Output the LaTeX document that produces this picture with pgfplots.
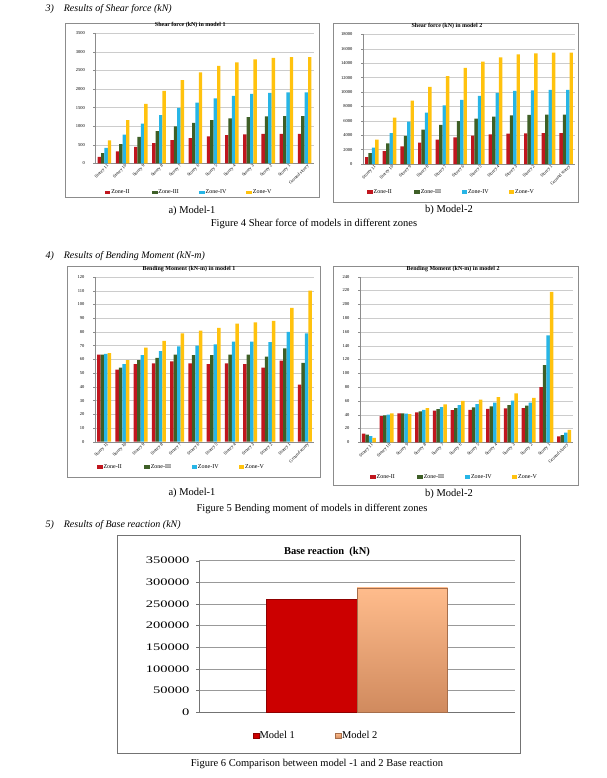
\documentclass[border=0pt]{standalone}
\usepackage{fontspec}
\setmainfont{Liberation Serif}
\newfontfamily\wideserif[FakeStretch=1.45]{Liberation Serif}
\usepackage{pgfplots}
\pgfplotsset{compat=1.18}

\definecolor{zII}{HTML}{C0161E}
\definecolor{zIII}{HTML}{3E5F27}
\definecolor{zIV}{HTML}{27B5E6}
\definecolor{zV}{HTML}{FFC20E}
\definecolor{mone}{HTML}{CC0000}
\definecolor{mtwotop}{HTML}{FFBC8C}
\definecolor{mtwobot}{HTML}{D08A5E}

\newcommand{\capfont}{\fontsize{10.5}{12}\selectfont}

\pgfplotsset{
  zonechart/.style={
    scale only axis,
    ybar=0pt, bar width=3.4pt,
    xmin=-0.5, xmax=11.5, ymin=0,
    xtick={0,...,11},
    xticklabels={Storey 11,Storey 10,Storey 9,Storey 8,Storey 7,Storey 6,Storey 5,Storey 4,Storey 3,Storey 2,Storey 1,Ground storey},
    xticklabel style={rotate=45, anchor=north east, inner sep=0.5pt, xshift=3pt, font=\fontsize{4.5}{5}\selectfont},
    yticklabel style={font=\fontsize{4.5}{5}\selectfont, xshift=-5pt},
    /pgf/number format/assume math mode=true,
    /pgf/number format/fixed,
    /pgf/number format/1000 sep={},
    scaled y ticks=false,
    axis x line*=bottom, axis y line*=left,
    axis line style={draw=black!45, line width=0.4pt, -},
    x tick style={draw=none},
    y tick style={draw=black!45, line width=0.3pt},
    tick align=outside, major tick length=2pt,
    ymajorgrids, grid style={draw=black!20, line width=0.35pt},
    title style={font=\bfseries\fontsize{6}{7}\selectfont, anchor=center, yshift=-6pt},
    legend style={draw=none, fill=none, anchor=west, legend columns=4,
      font=\fontsize{6}{7}\selectfont, inner sep=0pt, nodes={inner sep=0.8pt}},
    legend image code/.code={\fill[##1] (0pt,-1.6pt) rectangle (5.6pt,1.6pt);},
  },
}

\begin{document}
\begin{tikzpicture}
\useasboundingbox (0,0) rectangle (606pt,-778pt);

% headings and captions
\node[anchor=west, font=\itshape\fontsize{10}{12}\selectfont] at (42pt,-9pt) {3)\hspace{10pt}Results of Shear force (kN)};
\node[font=\capfont] at (192pt,-211pt) {a) Model-1};
\node[font=\capfont] at (449pt,-210pt) {b) Model-2};
\node[font=\capfont] at (314pt,-224pt) {Figure 4 Shear force of models in different zones};
\node[anchor=west, font=\itshape\fontsize{10}{12}\selectfont] at (42pt,-256pt) {4)\hspace{10pt}Results of Bending Moment (kN-m)};
\node[font=\capfont] at (192pt,-493pt) {a) Model-1};
\node[font=\capfont] at (449pt,-494pt) {b) Model-2};
\node[font=\capfont] at (312pt,-509pt) {Figure 5 Bending moment of models in different zones};
\node[anchor=west, font=\itshape\fontsize{10}{12}\selectfont] at (42pt,-525pt) {5)\hspace{10pt}Results of Base reaction (kN)};
\node[font=\capfont] at (317pt,-764pt) {Figure 6 Comparison between model -1 and 2 Base reaction};

% chart frames
\draw[black!45, line width=0.5pt] (65pt,-23pt) rectangle (319pt,-197pt);
\draw[black!45, line width=0.5pt] (333pt,-23pt) rectangle (578pt,-202pt);
\draw[black!45, line width=0.5pt] (67pt,-266pt) rectangle (320pt,-477pt);
\draw[black!45, line width=0.5pt] (333pt,-266pt) rectangle (578pt,-485pt);
\draw[black!55, line width=0.6pt] (117pt,-535pt) rectangle (520pt,-753pt);

% Shear force model 1
\begin{axis}[zonechart, at={(95.3pt,-163.3pt)}, anchor=south west,
  width=218.4pt, height=130pt, ymax=3500, ytick={0,500,...,3500},
  title={Shear force (kN) in model 1}, title style={at={(0.435,1.06)}},
  legend style={at={(0.043,-0.226)}}]
\addplot[fill=zII, draw=none] coordinates {(0,172) (1,322) (2,444) (3,542) (4,622) (5,681) (6,728) (7,756) (8,778) (9,789) (10,794) (11,794)};
\addplot[fill=zIII, draw=none] coordinates {(0,276) (1,516) (2,711) (3,867) (4,996) (5,1089) (6,1164) (7,1209) (8,1244) (9,1262) (10,1271) (11,1271)};
\addplot[fill=zIV, draw=none] coordinates {(0,413) (1,773) (2,1067) (3,1300) (4,1493) (5,1633) (6,1747) (7,1813) (8,1867) (9,1893) (10,1907) (11,1907)};
\addplot[fill=zV, draw=none] coordinates {(0,620) (1,1160) (2,1600) (3,1950) (4,2240) (5,2450) (6,2620) (7,2720) (8,2800) (9,2840) (10,2860) (11,2860)};
\addlegendentry{\makebox[40pt][l]{Zone-II}}
\addlegendentry{\makebox[40pt][l]{Zone-III}}
\addlegendentry{\makebox[40pt][l]{Zone-IV}}
\addlegendentry{\makebox[40pt][l]{Zone-V}}
\end{axis}

% Shear force model 2
\begin{axis}[zonechart, at={(363pt,-164pt)}, anchor=south west,
  width=212pt, height=129.7pt, ymax=18000, ytick={0,2000,...,18000},
  title={Shear force (kN) in model 2}, title style={at={(0.396,1.064)}},
  legend style={at={(0.019,-0.216)}}]
\addplot[fill=zII, draw=none] coordinates {(0,944) (1,1792) (2,2444) (3,2972) (4,3389) (5,3708) (6,3944) (7,4111) (8,4222) (9,4264) (10,4292) (11,4292)};
\addplot[fill=zIII, draw=none] coordinates {(0,1511) (1,2867) (2,3911) (3,4756) (4,5422) (5,5933) (6,6311) (7,6578) (8,6756) (9,6822) (10,6867) (11,6867)};
\addplot[fill=zIV, draw=none] coordinates {(0,2267) (1,4300) (2,5867) (3,7133) (4,8133) (5,8900) (6,9467) (7,9867) (8,10133) (9,10233) (10,10300) (11,10300)};
\addplot[fill=zV, draw=none] coordinates {(0,3400) (1,6450) (2,8800) (3,10700) (4,12200) (5,13350) (6,14200) (7,14800) (8,15200) (9,15350) (10,15450) (11,15450)};
\addlegendentry{\makebox[40pt][l]{Zone-II}}
\addlegendentry{\makebox[40pt][l]{Zone-III}}
\addlegendentry{\makebox[40pt][l]{Zone-IV}}
\addlegendentry{\makebox[40pt][l]{Zone-V}}
\end{axis}

% Bending moment model 1
\begin{axis}[zonechart, at={(95pt,-441.7pt)}, anchor=south west,
  width=219pt, height=164.7pt, ymax=120, ytick={0,10,...,120}, bar width=3.5pt,
  title={Bending Moment (kN-m) in model 1}, title style={at={(0.429,1.049)}},
  legend style={at={(0.009,-0.154)}}]
\addplot[fill=zII, draw=none] coordinates {(0,63.5) (1,52.5) (2,56.5) (3,57) (4,58.5) (5,57) (6,56.5) (7,57) (8,56.5) (9,54) (10,59) (11,41.5)};
\addplot[fill=zIII, draw=none] coordinates {(0,63.5) (1,54) (2,59.5) (3,61) (4,63.5) (5,63) (6,63) (7,63.5) (8,63.5) (9,62) (10,68) (11,57.5)};
\addplot[fill=zIV, draw=none] coordinates {(0,64) (1,56.5) (2,63) (3,66) (4,69.5) (5,70) (6,71) (7,73) (8,73) (9,72.5) (10,80) (11,79)};
\addplot[fill=zV, draw=none] coordinates {(0,64.5) (1,59.5) (2,68.5) (3,73.5) (4,79) (5,81) (6,83) (7,86) (8,87) (9,88) (10,97.5) (11,110)};
\addlegendentry{\makebox[40pt][l]{Zone-II}}
\addlegendentry{\makebox[40pt][l]{Zone-III}}
\addlegendentry{\makebox[40pt][l]{Zone-IV}}
\addlegendentry{\makebox[40pt][l]{Zone-V}}
\end{axis}

% Bending moment model 2
\begin{axis}[zonechart, at={(360pt,-442.3pt)}, anchor=south west,
  width=213pt, height=165.6pt, ymax=240, ytick={0,20,...,240}, bar width=3.5pt,
  title={Bending Moment (kN-m) in model 2}, title style={at={(0.437,1.047)}},
  legend style={at={(0.047,-0.21)}}]
\addplot[fill=zII, draw=none] coordinates {(0,12.5) (1,38) (2,42) (3,43.5) (4,46) (5,46.5) (6,47) (7,48.5) (8,49) (9,49.5) (10,80) (11,8.5)};
\addplot[fill=zIII, draw=none] coordinates {(0,11) (1,39) (2,42) (3,45) (4,48) (5,49.5) (6,50.5) (7,52) (8,54) (9,53) (10,112) (11,10.5)};
\addplot[fill=zIV, draw=none] coordinates {(0,9) (1,40) (2,41.5) (3,47) (4,51) (5,54) (6,55.5) (7,57.5) (8,60.5) (9,57.5) (10,155) (11,14)};
\addplot[fill=zV, draw=none] coordinates {(0,6.5) (1,42) (2,41) (3,49.5) (4,55) (5,60) (6,62) (7,65.5) (8,71) (9,64.5) (10,218) (11,18)};
\addlegendentry{\makebox[40pt][l]{Zone-II}}
\addlegendentry{\makebox[40pt][l]{Zone-III}}
\addlegendentry{\makebox[40pt][l]{Zone-IV}}
\addlegendentry{\makebox[40pt][l]{Zone-V}}
\end{axis}

% Base reaction
\begin{axis}[scale only axis, at={(199pt,-712.3pt)}, anchor=south west,
  width=316pt, height=151.6pt,
  ybar=0pt, bar width=90.5pt,
  xmin=-0.5, xmax=0.5, ymin=0, ymax=350000, ytick={0,50000,...,350000},
  xtick=\empty, scaled y ticks=false,
  /pgf/number format/assume math mode=true,
  /pgf/number format/fixed,
  /pgf/number format/1000 sep={},
  yticklabel style={font=\wideserif\fontsize{10}{12}\selectfont, xshift=-3pt},
  axis x line*=bottom, axis y line*=left,
  axis line style={draw=black!55, line width=0.5pt, -},
  y tick style={draw=black!55, line width=0.4pt},
  tick align=outside, major tick length=3pt,
  ymajorgrids, grid style={draw=black!40, line width=0.8pt},
  title={Base reaction\ \ (kN)},
  title style={at={(0.405,1.057)}, anchor=center, yshift=-6pt, font=\bfseries\fontsize{10.5}{12}\selectfont},
  legend style={draw=none, fill=none, anchor=west, legend columns=2, at={(0.17,-0.156)},
    font=\fontsize{10.5}{12}\selectfont, inner sep=0pt, nodes={inner sep=0.8pt}},
  legend image code/.code={\fill[#1] (0pt,-2.6pt) rectangle (5.6pt,2.6pt);}]
\addplot[fill=mone, draw=mone!70!black, line width=0.3pt] coordinates {(0,262000)};
\addplot[top color=mtwotop, bottom color=mtwobot, draw=mtwobot!80!black, line width=0.3pt] coordinates {(0,287000)};
\addlegendentry{\makebox[75pt][l]{Model 1}}
\addlegendentry{\makebox[75pt][l]{Model 2}}
\end{axis}
\end{tikzpicture}
\end{document}
